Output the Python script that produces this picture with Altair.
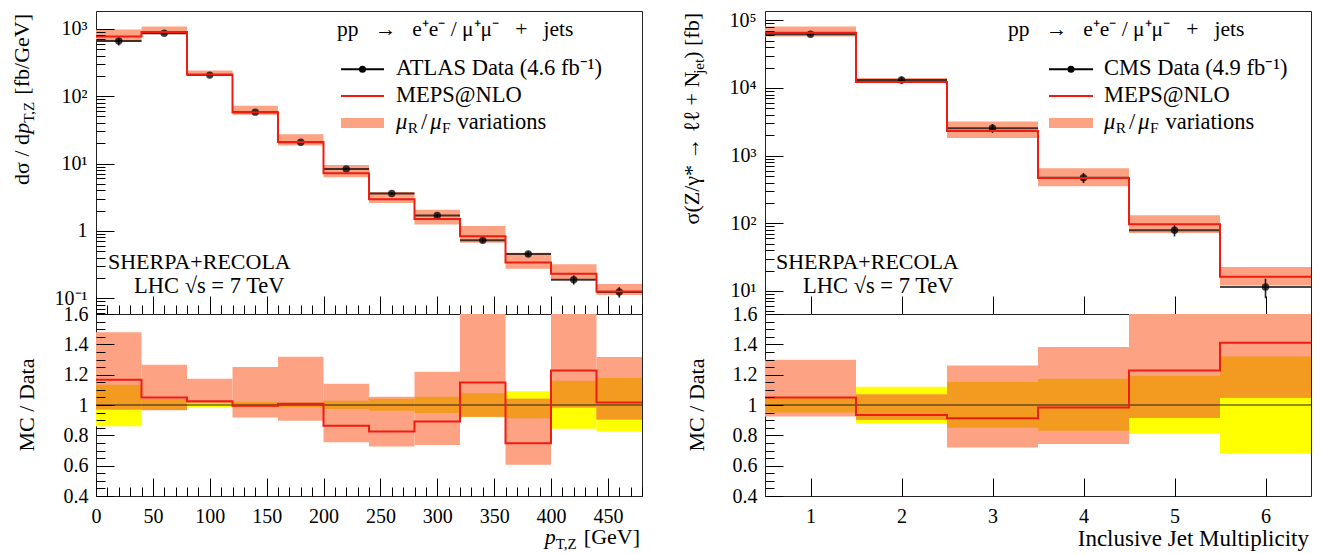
import altair as alt
import pandas as pd

SERIF = "Liberation Serif"
SALMON = "#fda384"
ORANGE = "#f39a20"
YELLOW = "#ffff00"
RED = "#ee1d12"
NB = "\u00a0"  # non-breaking space for wider gaps inside a string

# ---------------- Z boson transverse momentum (ATLAS, 40 GeV bins) ----------------
pt_edges = [0, 40, 80, 120, 160, 200, 240, 280, 320, 360, 400, 440, 480]
pt_data = [656, 855, 205, 57.8, 20.7, 8.32, 3.58, 1.69, 0.724, 0.454, 0.189, 0.124]
pt_mc_over_data = [1.167, 1.05, 1.024, 0.995, 1.008, 0.864, 0.826, 0.892, 1.149, 0.747, 1.228, 1.017]
pt_scale_lo = [0.97, 0.965, 1.012, 0.918, 0.896, 0.754, 0.727, 0.736, 0.923, 0.606, 0.984, 0.905]
pt_scale_hi = [1.48, 1.266, 1.173, 1.25, 1.318, 1.14, 1.055, 1.22, 1.63, 1.042, 1.69, 1.316]
pt_data_lo = [0.86, 0.967, 0.985, 0.985, 0.985, 0.974, 0.962, 0.947, 0.92, 0.912, 0.844, 0.824]
pt_data_hi = [1.134, 1.04, 1.016, 1.02, 1.015, 1.028, 1.042, 1.055, 1.077, 1.09, 1.16, 1.178]

# ---------------- inclusive jet multiplicity (CMS) ----------------
nj_edges = [0.5, 1.5, 2.5, 3.5, 4.5, 5.5, 6.5]
nj_data = [62100, 13100, 2540, 473, 79, 11.5]
nj_mc_over_data = [1.05, 0.934, 0.912, 0.984, 1.228, 1.411]
nj_scale_lo = [0.925, 0.903, 0.72, 0.743, 0.914, 1.048]
nj_scale_hi = [1.299, 1.07, 1.261, 1.382, 1.67, 1.97]
nj_data_lo = [0.95, 0.878, 0.85, 0.83, 0.811, 0.679]
nj_data_hi = [1.05, 1.121, 1.152, 1.173, 1.193, 1.32]

# axis tick labels
pt_ylabels = [(0.1, "10⁻¹"), (1, "1"), (10, "10¹"), (100, "10²"), (1000, "10³")]
nj_ylabels = [(10, "10¹"), (100, "10²"), (1000, "10³"), (10000, "10⁴"), (100000, "10⁵")]
pt_xlabels = [0, 50, 100, 150, 200, 250, 300, 350, 400, 450]
nj_xlabels = [1, 2, 3, 4, 5, 6]
ratio_labels = [0.4, 0.6, 0.8, 1.0, 1.2, 1.4, 1.6]

W = 546
TOP_H = 303
RAT_H = 182
MAJOR, MINOR = 18, 9
ONE = pd.DataFrame({"k": [0]})

# approximate advance widths (em) of Liberation Serif, used to chain text pieces
ADV = {' ': .25, NB: .25, '(': .333, ')': .333, '[': .333, ']': .333, '/': .278, '+': .564,
       '=': .564, '*': .5, ',': .25, '.': .25, '@': .921, '→': 1.0, 'σ': .55, 'μ': .52, 'γ': .45,
       'ℓ': .42, '√': .55, '⁺': .35, '⁻': .35, '¹': .3}
ADV.update(dict(zip("abcdefghijklmnopqrstuvwxyz",
                    [.444, .5, .444, .5, .444, .333, .5, .5, .278, .278, .5, .278, .778, .5, .5, .5,
                     .5, .333, .389, .278, .5, .5, .722, .5, .5, .444])))
ADV.update(dict(zip("ABCDEFGHIJKLMNOPQRSTUVWXYZ",
                    [.722, .667, .667, .722, .611, .556, .722, .722, .333, .389, .722, .611, .889, .722,
                     .722, .556, .722, .667, .556, .611, .722, .722, .944, .722, .722, .611])))


def width(s, size):
    return sum(ADV.get(c, .5) for c in s) * size


def tx(s, x, y, size=22, align="left", baseline="alphabetic", angle=0, dx=0, dy=0, style="normal"):
    return alt.Chart(pd.DataFrame({"t": [s]})).mark_text(
        font=SERIF, fontSize=size, align=align, baseline=baseline, angle=angle,
        dx=dx, dy=dy, fontStyle=style, color="black",
    ).encode(text="t:N", x=alt.value(x), y=alt.value(y))


def rich(pieces, x, y, angle=0, end=False):
    """Lay text pieces (string, size, baseline shift, style, gap before) along one baseline."""
    total = sum(width(p[0], p[1]) + p[4] for p in pieces)
    pos = -total if end else 0.0
    out = []
    for s, size, shift, style, gap in pieces:
        pos += gap
        out.append(tx(s, x, y, size=size, angle=angle, dx=pos, dy=shift, style=style))
        pos += width(s, size)
    return out


def bins_frame(edges, data, ratio, s_lo, s_hi, d_lo, d_hi):
    rows = []
    for i, d in enumerate(data):
        ov_lo = max(s_lo[i], d_lo[i])
        ov_hi = max(min(s_hi[i], d_hi[i]), ov_lo)
        rows.append(dict(lo=edges[i], hi=edges[i + 1], mid=(edges[i] + edges[i + 1]) / 2,
                         data=d, band_lo=d * s_lo[i], band_hi=d * s_hi[i],
                         err_lo=d * d_lo[i], err_hi=d * d_hi[i],
                         s_lo=s_lo[i], s_hi=s_hi[i], d_lo=d_lo[i], d_hi=d_hi[i],
                         ov_lo=ov_lo, ov_hi=ov_hi))
    return pd.DataFrame(rows)


def step_frame(edges, vals):
    return pd.DataFrame({"x": list(edges), "y": list(vals) + [vals[-1]]})


def label_expr(pairs):
    expr = "''"
    for v, lab in reversed(pairs):
        expr = f"abs(datum.value - {v}) < {v * 1e-6} ? '{lab}' : ({expr})"
    return expr


def label_axis(orient, values, expr=None, fmt=None, pad=8):
    kw = dict(orient=orient, values=values, ticks=False, domain=False, grid=False, title=None,
              labelFont=SERIF, labelFontSize=20, labelColor="black", labelPadding=pad,
              labelFlush=False, labelOverlap=False, labelBound=False)
    if expr:
        kw["labelExpr"] = expr
    if fmt:
        kw["format"] = fmt
    return alt.Axis(**kw)


def tick_axis(orient, offset, values, test=None):
    size = MAJOR if test is None else {"condition": {"test": test, "value": MAJOR}, "value": MINOR}
    return alt.Axis(orient=orient, offset=offset, values=values, labels=False, domain=False,
                    grid=False, title=None, tickSize=size, tickColor="black", tickWidth=1, zindex=1)


LOG_TEST = "abs(log(datum.value)/LN10 - round(log(datum.value)/LN10)) < 0.01"


def log_ticks(lo, hi):
    vals = []
    for e in range(-3, 7):
        for k in range(1, 10):
            v = k * 10.0 ** e
            if lo <= v <= hi:
                vals.append(v)
    return vals


def legend(x0, x1, xt, name):
    cx = (x0 + x1) / 2
    parts = [
        alt.Chart(ONE).mark_rule(color="black", strokeWidth=2).encode(
            x=alt.value(x0), x2=alt.value(x1), y=alt.value(58.3)),
        alt.Chart(ONE).mark_circle(color="black", size=50, opacity=1).encode(
            x=alt.value(cx), y=alt.value(58.3)),
        alt.Chart(ONE).mark_rule(color=RED, strokeWidth=2).encode(
            x=alt.value(x0), x2=alt.value(x1), y=alt.value(85)),
        alt.Chart(ONE).mark_rect(color=SALMON).encode(
            x=alt.value(x0), x2=alt.value(x1), y=alt.value(107), y2=alt.value(117)),
        tx(name, xt, 64, size=22.5),
        tx("MEPS@NLO", xt, 90.7, size=22.5),
    ]
    parts += rich([("μ", 22.5, 0, "italic", 0), ("R", 15.5, 4, "normal", 0),
                   ("/", 22.5, 0, "normal", 3), ("μ", 22.5, 0, "italic", 3),
                   ("F", 15.5, 4, "normal", 0), ("variations", 22.5, 0, "normal", 7)],
                  xt, 118)
    return parts


def top_panel(df, step, xs, ys, x_tick_vals, x_test, ylabels, y_tick_vals, extra):
    band = alt.Chart(df).mark_rect(color=SALMON, clip=True).encode(
        x=alt.X("lo:Q", scale=xs, axis=None), x2="hi:Q",
        y=alt.Y("band_lo:Q", scale=ys,
                axis=label_axis("left", [v for v, _ in ylabels], expr=label_expr(ylabels), pad=9)),
        y2="band_hi:Q")
    hbar = alt.Chart(df).mark_rule(color="black", strokeWidth=2, opacity=0.72, clip=True).encode(
        x=alt.X("lo:Q", scale=xs, axis=None), x2="hi:Q",
        y=alt.Y("data:Q", scale=ys, axis=None))
    err = alt.Chart(df).mark_rule(color="black", strokeWidth=1.6, opacity=0.85, clip=True).encode(
        x=alt.X("mid:Q", scale=xs, axis=None),
        y=alt.Y("err_lo:Q", scale=ys, axis=None), y2="err_hi:Q")
    pts = alt.Chart(df).mark_circle(color="black", size=55, opacity=0.75, clip=True).encode(
        x=alt.X("mid:Q", scale=xs, axis=None),
        y=alt.Y("data:Q", scale=ys, axis=None))
    mc = alt.Chart(step).mark_line(color=RED, strokeWidth=2, interpolate="step-after", clip=True).encode(
        x=alt.X("x:Q", scale=xs, axis=tick_axis("top", -TOP_H, x_tick_vals, x_test)),
        y=alt.Y("y:Q", scale=ys, axis=tick_axis("right", -W, y_tick_vals, LOG_TEST)))
    return alt.layer(band, hbar, err, pts, mc, *extra).resolve_axis(
        x="independent", y="independent").properties(width=W, height=TOP_H)


def ratio_panel(df, step, xs, xlabels, x_tick_vals, x_test, extra):
    ys = alt.Scale(domain=[0.4, 1.6], nice=False, zero=False)
    y_ticks = [round(0.4 + 0.05 * i, 2) for i in range(25)]
    yel = alt.Chart(df).mark_rect(color=YELLOW, clip=True).encode(
        x=alt.X("lo:Q", scale=xs, axis=label_axis("bottom", xlabels, fmt="d", pad=10)), x2="hi:Q",
        y=alt.Y("d_lo:Q", scale=ys, axis=label_axis("left", ratio_labels, fmt="~g", pad=8)),
        y2="d_hi:Q")
    sal = alt.Chart(df).mark_rect(color=SALMON, clip=True).encode(
        x=alt.X("lo:Q", scale=xs, axis=None), x2="hi:Q",
        y=alt.Y("s_lo:Q", scale=ys, axis=None), y2="s_hi:Q")
    ora = alt.Chart(df).mark_rect(color=ORANGE, clip=True).encode(
        x=alt.X("lo:Q", scale=xs, axis=None), x2="hi:Q",
        y=alt.Y("ov_lo:Q", scale=ys, axis=None), y2="ov_hi:Q")
    unity = alt.Chart(ONE).mark_rule(color="#222222", strokeWidth=1).encode(
        y=alt.Y(datum=1, scale=ys, axis=None))
    mc = alt.Chart(step).mark_line(color=RED, strokeWidth=2, interpolate="step-after", clip=True).encode(
        x=alt.X("x:Q", scale=xs, axis=tick_axis("top", -RAT_H, x_tick_vals, x_test)),
        y=alt.Y("y:Q", scale=ys, axis=tick_axis(
            "right", -W, y_ticks, "abs(datum.value*5 - round(datum.value*5)) < 0.01")))
    return alt.layer(yel, sal, ora, unity, mc, *extra).resolve_axis(
        x="independent", y="independent").properties(width=W, height=RAT_H)


S3 = NB * 3
TITLE = f"pp{S3}→{S3}e⁺e⁻{NB}/{NB}μ⁺μ⁻{S3}+{S3}jets"
LHC = "LHC √s = 7 TeV"

# ---------------- left column: p_T,Z ----------------
pt_df = bins_frame(pt_edges, pt_data, pt_mc_over_data, pt_scale_lo, pt_scale_hi, pt_data_lo, pt_data_hi)
pt_mc = [d * r for d, r in zip(pt_data, pt_mc_over_data)]
pt_xs = alt.Scale(domain=[0, 480], nice=False, zero=False)
pt_ys = alt.Scale(type="log", domain=[10 ** -1.233, 10 ** 3.263], nice=False)
pt_xt = list(range(0, 481, 10))
pt_test = "datum.value % 50 == 0"

anchor = alt.Chart(ONE).mark_rule(color="white", strokeWidth=0.5, opacity=0).encode(
    x=alt.value(-95), x2=alt.value(0), y=alt.value(-10))

top_left_text = [anchor, tx(TITLE, 241, 25, size=21.5),
                 tx("SHERPA+RECOLA", 12, 258), tx(LHC, 38, 282, size=22.5)]
top_left_text += legend(245, 288, 300, "ATLAS Data (4.6 fb⁻¹)")
top_left_text += rich([("dσ / d", 22, 0, "normal", 0), ("p", 22, 0, "italic", 0),
                       ("T,Z", 15, 5, "normal", 0), ("[fb/GeV]", 22, 0, "normal", 6)],
                      -67, 3, angle=270, end=True)

top_left = top_panel(pt_df, step_frame(pt_edges, pt_mc), pt_xs, pt_ys, pt_xt, pt_test,
                     pt_ylabels, log_ticks(10 ** -1.233, 10 ** 3.263), top_left_text)

rat_left_text = [tx("MC / Data", -62, 91, size=22, align="center", angle=270)]
rat_left_text += rich([("p", 22, 0, "italic", 0), ("T,Z", 15, 5, "normal", 0),
                       ("[GeV]", 22, 0, "normal", 6)],
                      544, 230, end=True)
rat_left = ratio_panel(pt_df, step_frame(pt_edges, pt_mc_over_data), pt_xs, pt_xlabels, pt_xt, pt_test,
                       rat_left_text)

# ---------------- right column: jet multiplicity ----------------
nj_df = bins_frame(nj_edges, nj_data, nj_mc_over_data, nj_scale_lo, nj_scale_hi, nj_data_lo, nj_data_hi)
nj_mc = [d * r for d, r in zip(nj_data, nj_mc_over_data)]
nj_xs = alt.Scale(domain=[0.5, 6.5], nice=False, zero=False)
nj_ys = alt.Scale(type="log", domain=[10 ** 0.66, 10 ** 5.137], nice=False)

top_right_text = [tx(TITLE, 243, 25, size=21.5),
                  tx("SHERPA+RECOLA", 11, 258), tx(LHC, 38, 282, size=22.5)]
top_right_text += legend(284, 328, 339, "CMS Data (4.9 fb⁻¹)")
top_right_text += rich([("σ(Z/γ*" + NB + "→" + NB + "ℓℓ" + NB + "+" + NB + "N", 22, 0, "normal", 0),
                        ("jet", 15, 5, "normal", 0), (")" + NB + "[fb]", 22, 0, "normal", 0)],
                       -66, 2, angle=270, end=True)

top_right = top_panel(nj_df, step_frame(nj_edges, nj_mc), nj_xs, nj_ys, nj_xlabels, None,
                      nj_ylabels, log_ticks(10 ** 0.66, 10 ** 5.137), top_right_text)

rat_right_text = [tx("MC / Data", -61, 91, size=22, align="center", angle=270),
                  tx("Inclusive Jet Multiplicity", 544, 232, size=23, align="right")]
rat_right = ratio_panel(nj_df, step_frame(nj_edges, nj_mc_over_data), nj_xs, nj_xlabels, nj_xlabels, None,
                        rat_right_text)

# 2x2 grid: spectra on top, ratios below; flush bounds place the plot frames exactly
chart = alt.concat(top_left, top_right, rat_left, rat_right, columns=2,
                   spacing={"row": 0, "column": 123}, bounds="flush").properties(
    padding=0, background="white"
).configure_view(stroke="#222222", strokeWidth=1).configure_axis(
    labelFont=SERIF, labelFontSize=20, labelColor="black"
).configure_text(font=SERIF)

chart.save("out.html", embed_options={"renderer": "svg", "actions": False})
